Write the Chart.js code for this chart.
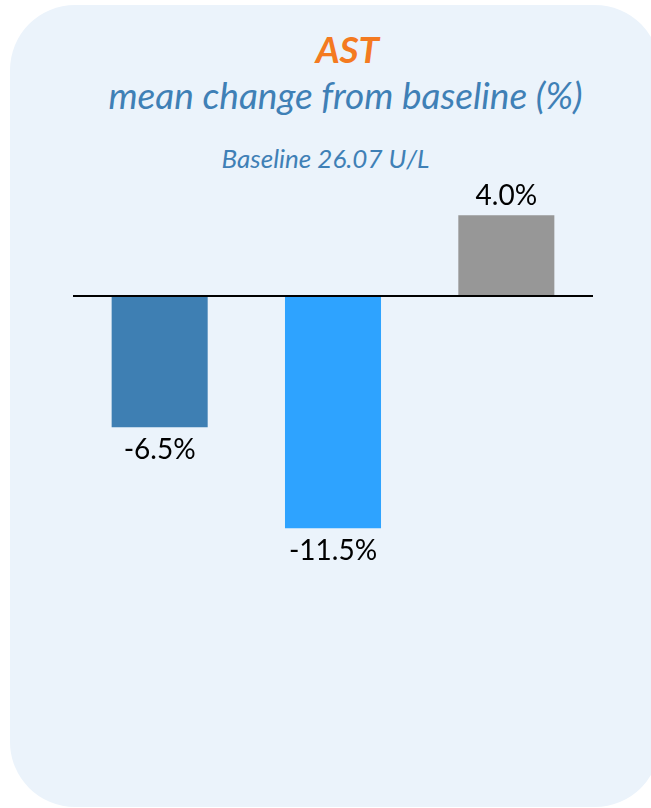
<!DOCTYPE html>
<html>
<head>
<meta charset="utf-8">
<script src="https://cdn.jsdelivr.net/npm/chart.js@4"></script>
<style>
  html, body { margin: 0; padding: 0; background: #ffffff; }
  body { width: 651px; height: 808px; position: relative; overflow: hidden; font-family: Lato, "Open Sans", sans-serif; }
  #panel { position: absolute; left: 10px; top: 5px; width: 650px; height: 802px; border-radius: 65px; background: #ebf3fb; }
  .t { position: absolute; left: 0; width: 651px; text-align: center; font-style: italic; white-space: nowrap; line-height: normal; }
  #title { top: 26px; left: 22px; font-size: 37px; font-weight: bold; color: #f47a20; }
  #sub { top: 72px; left: 20px; font-size: 37px; color: #3f80b6; }
  #base { top: 142px; left: 0; font-size: 26px; color: #3f80b6; }
  #c { position: absolute; left: 0; top: 0; }
</style>
</head>
<body>
<div id="panel"></div>
<div class="t" id="title">AST</div>
<div class="t" id="sub">mean change from baseline (%)</div>
<div class="t" id="base">Baseline 26.07 U/L</div>
<canvas id="c" width="651" height="808"></canvas>
<script>
const groups = ['Group A', 'Group B', 'Group C'];
const changes = [-6.5, -11.5, 4.0];
const valueLabels = ['-6.5%', '-11.5%', '4.0%'];
const barColors = ['#3e7fb3', '#2ea3ff', '#979797'];

// draws the value labels above/below each bar
const labelPlugin = {
  id: 'valueLabels',
  afterDatasetsDraw(chart) {
    const ctx = chart.ctx;
    const meta = chart.getDatasetMeta(0);
    ctx.save();
    ctx.font = '28px Lato, "Open Sans", sans-serif';
    ctx.fillStyle = '#000000';
    ctx.textAlign = 'center';
    ctx.textBaseline = 'middle';
    meta.data.forEach((bar, i) => {
      const off = changes[i] >= 0 ? -19 : 23;
      ctx.fillText(valueLabels[i], bar.x, bar.y + off);
    });
    ctx.restore();
  }
};

new Chart(document.getElementById('c'), {
  type: 'bar',
  data: {
    labels: groups,
    datasets: [{
      data: changes,
      backgroundColor: barColors,
      borderWidth: 0,
      barPercentage: 0.554,
      categoryPercentage: 1
    }]
  },
  options: {
    responsive: false,
    animation: false,
    layout: { padding: { left: 73, right: 58, top: 195, bottom: 209 } },
    plugins: {
      legend: { display: false },
      tooltip: { enabled: false }
    },
    scales: {
      x: { display: false },
      y: {
        min: -15,
        max: 5,
        ticks: { display: false },
        border: { display: false },
        grid: {
          drawTicks: false,
          lineWidth: 2,
          color: c => c.tick.value === 0 ? '#000000' : 'rgba(0,0,0,0)'
        }
      }
    }
  },
  plugins: [labelPlugin]
});
</script>
</body>
</html>
